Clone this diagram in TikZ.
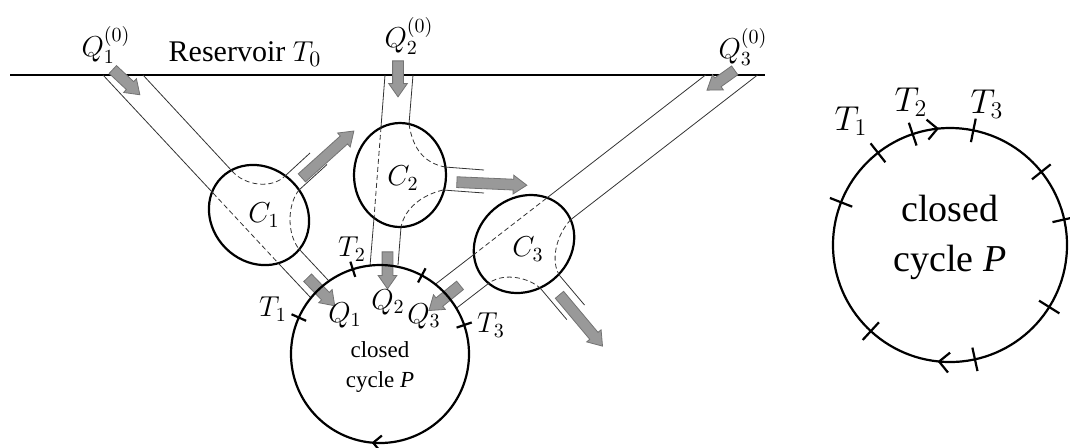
\documentclass[tikz,border=0pt]{standalone}
\usepackage{amsmath}
\usepackage{fontspec}
\setmainfont{Liberation Serif}
\usepackage{tikz}
\usetikzlibrary{arrows.meta,calc,shapes.arrows,decorations.markings}

\begin{document}
\begin{tikzpicture}[x=0.5pt,y=-0.5pt,font=\fontsize{14}{16}\selectfont,
  heat/.style={single arrow,draw=black!55,fill=black!40,line width=0.4pt,
    inner xsep=0pt,inner ysep=2.5pt,minimum width=9pt,
    single arrow head extend=2pt,single arrow tip angle=70},
  wall/.style={black!80,line width=0.4pt},
  inside/.style={black!80,line width=0.4pt,dash pattern=on 2.5pt off 1.5pt},
  engine/.style={line width=1.1pt},
  tick/.style={line width=1.1pt},
  flow/.style={line width=1.1pt,postaction={decorate}}]
  \useasboundingbox (0,0) rectangle (1070,447);

  % reservoir
  \coordinate (r0) at (10,75);
  \coordinate (r1) at (765,75);
  \draw[line width=1.1pt] (r0) -- (r1);
  \node (res) at (245,54) {\fontsize{15}{17}\selectfont Reservoir $T_0$};
  \node (q10) at (106,45) {$Q_1^{(0)}$};
  \node (q20) at (409,36) {$Q_2^{(0)}$};
  \node (q30) at (743,47) {$Q_3^{(0)}$};

  % engines
  \coordinate (c1) at (259,215);
  \coordinate (c2) at (400,175);
  \coordinate (c3) at (524,244);
  \draw[engine,rotate around={-45:(c1)}] (c1) ellipse [x radius=53,y radius=47];
  \draw[engine] (c2) ellipse [x radius=46,y radius=52];
  \draw[engine,rotate around={40:(c3)}] (c3) ellipse [x radius=53,y radius=46];
  \node (C1) at (264,215) {$C_1$};
  \node (C2) at (403,178) {$C_2$};
  \node (C3) at (528,249) {$C_3$};

  % channels of C_1
  \coordinate (a1) at (103,75);
  \coordinate (a1in) at (213,193);
  \coordinate (a1out) at (278.5,263.4);
  \coordinate (a1end) at (310.5,297.5);
  \coordinate (b1) at (143,75);
  \coordinate (b1in) at (232,171);
  \coordinate (w1a) at (285,176);
  \coordinate (w1b) at (299,190);
  \coordinate (w1c) at (310,153);
  \coordinate (w1d) at (327,164.5);
  \coordinate (d1) at (299,249);
  \coordinate (d1end) at (328,280);
  \draw[wall] (a1) -- (a1in) (a1out) -- (a1end) (b1) -- (b1in)
    (w1a) -- (w1c) (w1b) -- (w1d) (d1) -- (d1end);
  \draw[inside] (a1in) -- (a1out);
  \draw[inside] (b1in) .. controls (245,186) and (272,189) .. (w1a);
  \draw[inside] (w1b) .. controls (287,205) and (287,234) .. (d1);

  % channels of C_2
  \coordinate (a2) at (385,75);
  \coordinate (a2in) at (381,127);
  \coordinate (a2out) at (374,218);
  \coordinate (a2end) at (370,266);
  \coordinate (b2) at (413,75);
  \coordinate (b2in) at (409,124);
  \coordinate (w2a) at (445,167);
  \coordinate (w2b) at (443,190);
  \coordinate (w2c) at (484,170);
  \coordinate (w2d) at (484,193);
  \coordinate (d2) at (401,227);
  \coordinate (d2end) at (398,265);
  \draw[wall] (a2) -- (a2in) (a2out) -- (a2end) (b2) -- (b2in)
    (w2a) -- (w2c) (w2b) -- (w2d) (d2) -- (d2end);
  \draw[inside] (a2in) -- (a2out);
  \draw[inside] (b2in) .. controls (413,150) and (425,163) .. (w2a);
  \draw[inside] (w2b) .. controls (422,195) and (405,208) .. (d2);

  % channels of C_3
  \coordinate (a3) at (705.5,75);
  \coordinate (a3in) at (546.4,198.3);
  \coordinate (a3out) at (474,254.4);
  \coordinate (a3end) at (435,284.5);
  \coordinate (b3) at (757.5,75);
  \coordinate (b3in) at (570.8,219.6);
  \coordinate (w3a) at (560,276);
  \coordinate (w3b) at (541,289);
  \coordinate (w3c) at (584.5,305);
  \coordinate (w3d) at (566.8,319.6);
  \coordinate (d3) at (489.6,282.6);
  \coordinate (d3end) at (456,308.5);
  \draw[wall] (a3) -- (a3in) (a3out) -- (a3end) (b3) -- (b3in)
    (w3a) -- (w3c) (w3b) -- (w3d) (d3) -- (d3end);
  \draw[inside] (a3in) -- (a3out);
  \draw[inside] (b3in) .. controls (556,235) and (550,262) .. (w3a);
  \draw[inside] (w3b) .. controls (530,278) and (505,272) .. (d3);

  % heat and work arrows
  \node[heat,minimum height=18.5pt,rotate=-43] (h1) at (123.5,79.5) {};
  \node[heat,minimum height=18pt,rotate=-90] (h2) at (398,75) {};
  \node[heat,minimum height=17pt,rotate=-144.5] (h3) at (724,78) {};
  \node[heat,minimum height=35pt,rotate=42] (wk1) at (325,157) {};
  \node[heat,minimum height=35pt,rotate=-2.5] (wk2) at (488,183.5) {};
  \node[heat,minimum height=33.5pt,rotate=-50] (wk3) at (578.5,317.5) {};
  \node[heat,minimum height=19.5pt,rotate=-46] (hq1) at (318.5,289) {};
  \node[heat,minimum height=18.5pt,rotate=-90] (hq2) at (387.5,266.5) {};
  \node[heat,minimum height=20pt,rotate=-141] (hq3) at (447.5,295.5) {};

  % closed cycle P
  \coordinate (P) at (380,354);
  \draw[flow,decoration={markings,mark=at position 0.265 with
    {\arrow{Straight Barb[length=4pt,width=8pt]}}}] (P) circle [radius=89];
  \foreach \a in {155.8,107.8,62,19}
    \draw[tick] ($(P)+(-\a:81)$) -- ($(P)+(-\a:97)$);
  \node (t1) at (273,309) {$T_1$};
  \node (t2) at (352,249) {$T_2$};
  \node (t3) at (491,325) {$T_3$};
  \node (Q1) at (345,315) {$Q_1$};
  \node (Q2) at (388,302) {$Q_2$};
  \node (Q3) at (424,316) {$Q_3$};
  \node[align=center,font=\fontsize{11.5}{15}\selectfont] (ptext) at (380,367) {closed\\cycle \textit{P}};

  % closed cycle P, enlarged
  \coordinate (Q) at (950,245);
  \draw[flow,decoration={markings,
    mark=at position 0.267 with {\arrow{Straight Barb[length=5pt,width=10pt]}},
    mark=at position 0.735 with {\arrow{Straight Barb[length=5pt,width=10pt]}}}]
    (Q) circle [radius=117];
  \foreach \a in {128,108.6,78.5,38.7,12.6,-32,-77.7,-132.6,158.6}
    \draw[tick] ($(Q)+(-\a:105)$) -- ($(Q)+(-\a:129)$);
  \node[font=\fontsize{18}{20}\selectfont] (bt1) at (851,121) {$T_1$};
  \node[font=\fontsize{18}{20}\selectfont] (bt2) at (911,102) {$T_2$};
  \node[font=\fontsize{18}{20}\selectfont] (bt3) at (987,104) {$T_3$};
  \node[align=center,font=\fontsize{19}{25}\selectfont] (qtext) at (950,237) {closed\\cycle \textit{P}};
\end{tikzpicture}
\end{document}
